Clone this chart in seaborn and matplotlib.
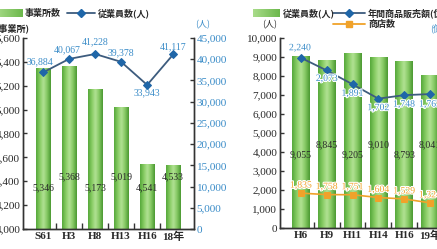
import numpy as np
import pandas as pd
import matplotlib
matplotlib.use("Agg")
import matplotlib.pyplot as plt
import seaborn as sns
from matplotlib.colors import LinearSegmentedColormap
from matplotlib.lines import Line2D
from matplotlib.transforms import blended_transform_factory
import matplotlib.patheffects as pe

# ---------------- data ----------------
left_cats = ["S61", "H3", "H8", "H13", "H16", "18年"]
left_establishments = [5346, 5368, 5173, 5019, 4541, 4533]
left_employees = [36884, 40067, 41228, 39378, 33943, 41117]
left_est_ticks = list(range(4000, 5601, 200))
left_emp_ticks = list(range(0, 45001, 5000))

right_cats = ["H6", "H9", "H11", "H14", "H16", "19年"]
right_employees = [9055, 8845, 9205, 9010, 8793, 8041]
right_sales = [2240, 2073, 1891, 1702, 1748, 1762]
right_shops = [1835, 1758, 1751, 1604, 1529, 1324]
right_emp_ticks = list(range(0, 10001, 1000))
right_sales_ticks = list(range(0, 2501, 500))

# ---------------- style ----------------
sns.set_theme(style="white")
plt.rcParams["font.family"] = ["Liberation Serif", "Noto Sans CJK JP", "DejaVu Sans"]
JP = ["Noto Sans CJK JP", "DejaVu Sans"]

W, H = 437, 249
fig = plt.figure(figsize=(W / 100, H / 100), dpi=100, facecolor="white")


def rect(x0, y0, x1, y1):
    return [x0 / W, 1 - y1 / H, (x1 - x0) / W, (y1 - y0) / H]


def fx(px):
    return px / W


def fy(py):
    return 1 - py / H


green_cmap = LinearSegmentedColormap.from_list(
    "g", ["#55a83a", "#86cb62", "#b2e294", "#84c862", "#4a9831"])
BLUE_LINE = "#3d5c7e"
BLUE_MARK = "#1f66a8"
BLUE_TEXT = "#3a8cc8"
ORANGE = "#f0a22a"
DARK = "#2a2a2a"
SPINE = "#333333"


def gradient_bars(ax):
    grad = np.linspace(0, 1, 64).reshape(1, -1)
    ylo = ax.get_ylim()[0]
    for p in list(ax.patches):
        x0, y0 = p.get_x(), p.get_y()
        w, h = p.get_width(), p.get_height()
        im = ax.imshow(grad, cmap=green_cmap,
                       extent=[x0, x0 + w, max(y0, ylo), y0 + h],
                       aspect="auto", zorder=2, interpolation="bicubic")
        im.set_clip_path(p)
        p.set_facecolor("none")
        p.set_edgecolor("none")


def style_axes(ax, twin, n):
    for a in (ax, twin):
        a.spines["top"].set_visible(False)
        for s in ("left", "right", "bottom"):
            a.spines[s].set_color(SPINE)
            a.spines[s].set_linewidth(1.0)
    ax.set_xlabel("")
    ax.set_ylabel("")
    twin.set_ylabel("")
    ax.tick_params(axis="x", which="major", length=0, pad=2, labelsize=8, labelcolor=DARK)
    ax.set_xticks(np.arange(n - 1) + 0.5, minor=True)
    ax.tick_params(axis="x", which="minor", bottom=True, direction="in", length=4,
                   width=1, color=SPINE)
    ax.tick_params(axis="y", left=True, direction="in", length=3, width=1,
                   color=SPINE, pad=2, labelsize=8, labelcolor=DARK)
    twin.tick_params(axis="y", right=True, direction="in", length=3, width=1,
                     color=SPINE, pad=2, labelsize=8)
    for lab in ax.get_xticklabels():
        lab.set_fontweight("bold")


# ---------------- left panel ----------------
ax1 = fig.add_axes(rect(23, 38, 194, 229))
df1 = pd.DataFrame({"cat": left_cats, "val": left_establishments})
sns.barplot(data=df1, x="cat", y="val", ax=ax1, width=0.55, color="#7cc35a",
            saturation=1, zorder=2)
ax1.set_ylim(4000, 5600)
gradient_bars(ax1)
ax1.set_xlim(-0.77, 5.8)
ax1.set_ylim(4000, 5600)
ax1.set_yticks(left_est_ticks)
ax1.set_yticklabels([f"{v:,}" for v in left_est_ticks])

tr1 = blended_transform_factory(ax1.transData, ax1.transAxes)
for i, v in enumerate(left_establishments):
    ax1.text(i, 0.215 if i % 2 == 0 else 0.272, f"{v:,}", transform=tr1,
             ha="center", va="center", fontsize=7, color=DARK, zorder=5)

ax2 = ax1.twinx()
sns.lineplot(x=np.arange(len(left_employees)), y=left_employees, ax=ax2,
             color=BLUE_LINE, lw=1.3, marker="D", markersize=4.5,
             markerfacecolor=BLUE_MARK, markeredgecolor=BLUE_MARK, sort=False)
ax2.set_ylim(0, 45000)
ax2.set_yticks(left_emp_ticks)
ax2.set_yticklabels([f"{v:,}" for v in left_emp_ticks])
ax2.tick_params(axis="y", labelcolor=BLUE_TEXT)
left_offsets = [(-3, 11), (-2, 9), (0, 12), (0, 9), (0, -8), (0, 8)]
for i, v in enumerate(left_employees):
    ax2.annotate(f"{v:,}", (i, v), xytext=left_offsets[i], textcoords="offset pixels",
                 ha="center", va="center", fontsize=7, color=BLUE_TEXT, zorder=6)
style_axes(ax1, ax2, len(left_cats))
ax1.set_xlim(-0.77, 5.8)

# ---------------- right panel ----------------
ax3 = fig.add_axes(rect(280, 38, 455, 228))
df2 = pd.DataFrame({"cat": right_cats, "val": right_employees})
sns.barplot(data=df2, x="cat", y="val", ax=ax3, width=0.68, color="#7cc35a",
            saturation=1, zorder=2)
ax3.set_ylim(0, 10000)
gradient_bars(ax3)
ax3.set_ylim(0, 10000)
ax3.set_yticks(right_emp_ticks)
ax3.set_yticklabels([f"{v:,}" for v in right_emp_ticks])

tr3 = blended_transform_factory(ax3.transData, ax3.transAxes)
for i, v in enumerate(right_employees):
    ax3.text(i, 0.384 if i % 2 == 0 else 0.437, f"{v:,}", transform=tr3,
             ha="center", va="center", fontsize=7, color=DARK, zorder=5)

sns.lineplot(x=np.arange(len(right_shops)), y=right_shops, ax=ax3,
             color=ORANGE, lw=1.2, marker="s", markersize=5,
             markerfacecolor=ORANGE, markeredgecolor=ORANGE, sort=False, zorder=4)
for i, v in enumerate(right_shops):
    ax3.annotate(f"{v:,}", (i, v), xytext=(0, 8), textcoords="offset pixels",
                 ha="center", va="center", fontsize=7, color=ORANGE, zorder=6,
                 path_effects=[pe.withStroke(linewidth=1.5, foreground="white")])

ax4 = ax3.twinx()
sns.lineplot(x=np.arange(len(right_sales)), y=right_sales, ax=ax4,
             color=BLUE_LINE, lw=1.3, marker="D", markersize=4.5,
             markerfacecolor=BLUE_MARK, markeredgecolor=BLUE_MARK, sort=False)
ax4.set_ylim(0, 2500)
ax4.set_yticks(right_sales_ticks)
ax4.tick_params(axis="y", labelcolor=BLUE_TEXT)
right_offsets = [(-1, 10), (0, -8), (0, -9), (0, -9), (0, -9), (0, -10)]
for i, v in enumerate(right_sales):
    ax4.annotate(f"{v:,}", (i, v), xytext=right_offsets[i], textcoords="offset pixels",
                 ha="center", va="center", fontsize=7, color=BLUE_TEXT, zorder=6,
                 path_effects=[pe.withStroke(linewidth=1.5, foreground="white")])
style_axes(ax3, ax4, len(right_cats))
ax3.set_xlim(-0.81, 5.97)

# ---------------- axis unit labels ----------------
fig.text(fx(29), fy(28), "(事業所)", ha="right", va="center", fontsize=6.5,
         family=JP, color=DARK, weight="bold")
fig.text(fx(203), fy(25), "(人)", ha="center", va="center", fontsize=6.5,
         family=JP, color=BLUE_TEXT)
fig.text(fx(270), fy(25), "(人)", ha="center", va="center", fontsize=6.5,
         family=JP, color=DARK)
fig.text(fx(430), fy(28), "(億円)", ha="left", va="center", fontsize=6.5,
         family=JP, color=BLUE_TEXT)

# ---------------- legends ----------------
grad = np.linspace(0, 1, 64).reshape(1, -1)
for (x0, x1) in [(-5, 22), (253, 280)]:
    lax = fig.add_axes(rect(x0, 9, x1, 17))
    lax.imshow(grad, cmap=LinearSegmentedColormap.from_list(
        "lg", ["#a9dc8a", "#6cb84c"]), aspect="auto")
    lax.axis("off")

fig.text(fx(25), fy(13), "事業所数", va="center", fontsize=6.5, family=JP,
         color=DARK, weight="bold")
fig.text(fx(98), fy(13), "従業員数(人)", va="center", fontsize=6.5, family=JP,
         color=DARK, weight="bold")
fig.text(fx(283), fy(13), "従業員数(人)", va="center", fontsize=6.5, family=JP,
         color=DARK, weight="bold")
fig.text(fx(368), fy(13), "年間商品販売額(億円)", va="center", fontsize=6.5, family=JP,
         color=DARK, weight="bold")
fig.text(fx(368), fy(24), "商店数", va="center", fontsize=6.5, family=JP,
         color=DARK, weight="bold")

for (x0, x1, y, col, mk, mc) in [(67, 95, 13, BLUE_LINE, "D", BLUE_MARK),
                                  (333, 365, 13, BLUE_LINE, "D", BLUE_MARK),
                                  (333, 365, 24, ORANGE, "s", ORANGE)]:
    fig.add_artist(Line2D([fx(x0), fx(x1)], [fy(y), fy(y)], color=col, lw=1.3,
                          transform=fig.transFigure))
    fig.add_artist(Line2D([fx((x0 + x1) / 2)], [fy(y)], marker=mk, markersize=4.5,
                          color=mc, lw=0, transform=fig.transFigure))

fig.savefig("out.png", dpi=100, facecolor="white")
